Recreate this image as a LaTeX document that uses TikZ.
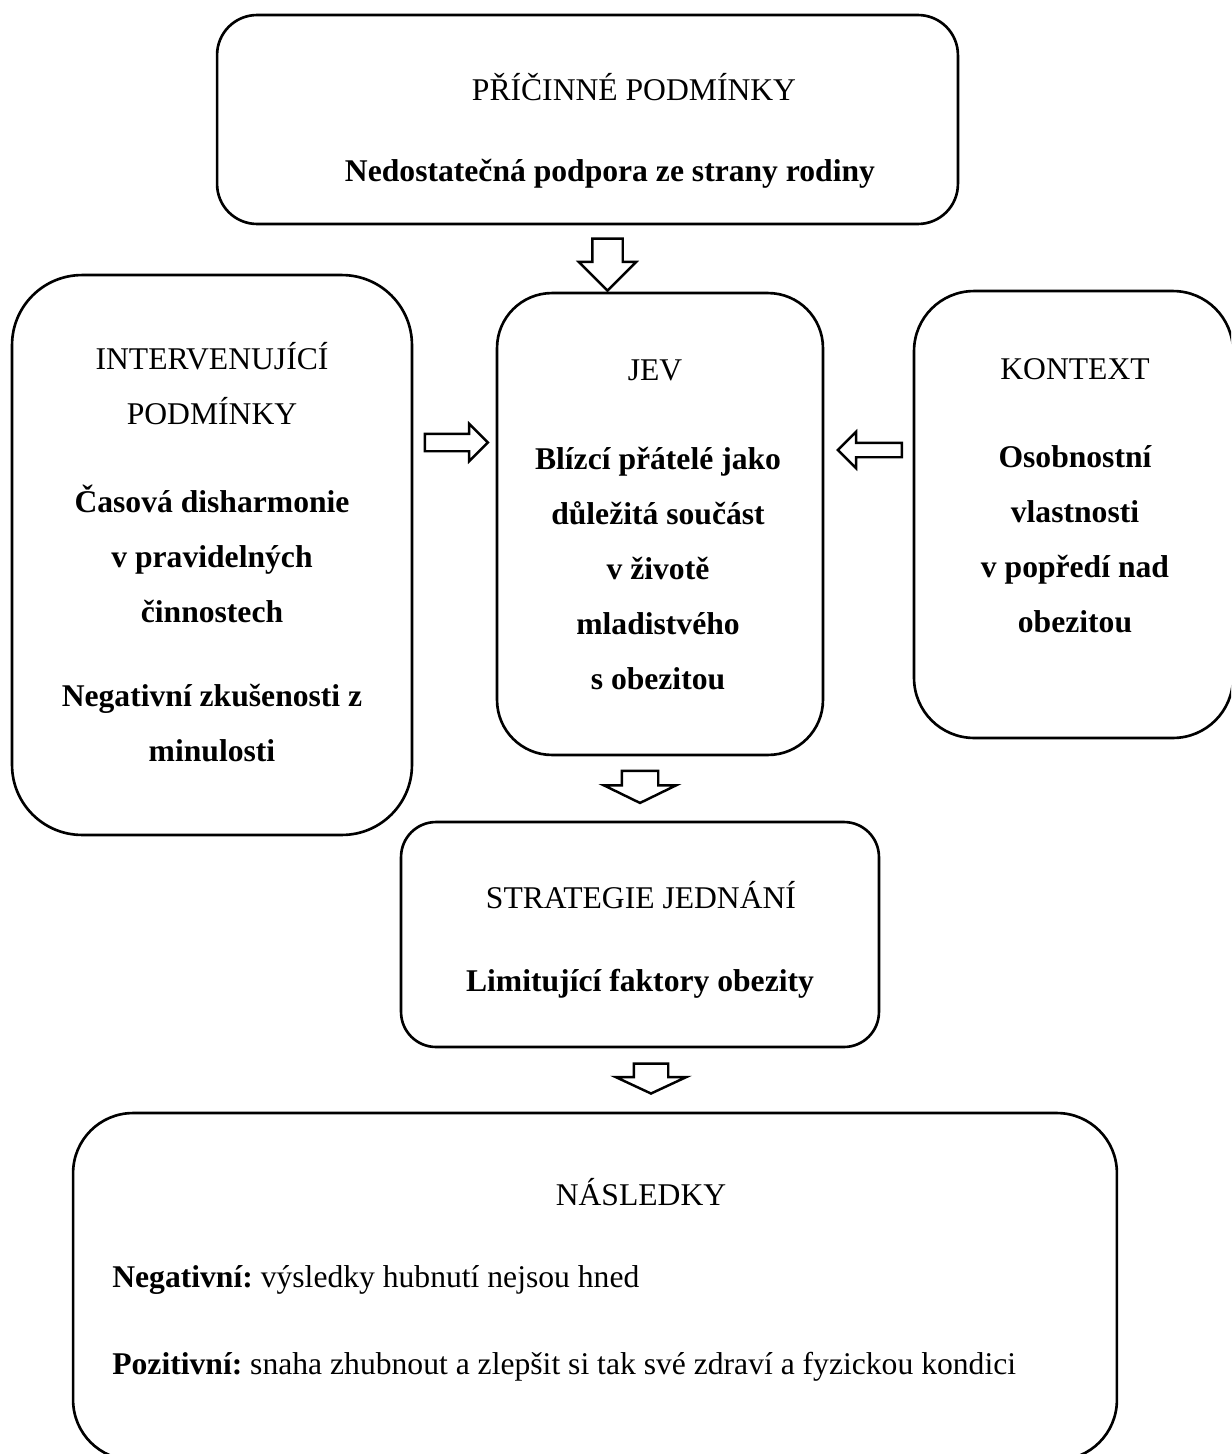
\documentclass[tikz,border=0pt]{standalone}
\usepackage{fontspec}
\setmainfont{Liberation Serif}
\usetikzlibrary{shapes.arrows}

\tikzset{
  box/.style={draw, line width=1.5pt, inner sep=0pt},
  head/.style={font=\fontsize{18}{31.3}\selectfont\frenchspacing, align=center},
  body/.style={font=\fontsize{18}{31.3}\selectfont\bfseries, align=center},
  blockarrow/.style={draw, single arrow, line width=1.4pt, inner xsep=0pt}
}

\begin{document}
\begin{tikzpicture}[x=0.02cm, y=-0.02cm]
\useasboundingbox (0,0) rectangle (1231,1454);
\clip (0,0) rectangle (1231,1454);

% boxes
\node[box, rounded corners=0.8cm, minimum width=14.82cm, minimum height=4.18cm] (pricin) at (587.5,119.5) {};
\node[box, rounded corners=1.4cm, minimum width=8cm, minimum height=11.2cm] (interv) at (212,555) {};
\node[box, rounded corners=1.1cm, minimum width=6.52cm, minimum height=9.24cm] (jev) at (660,524) {};
\node[box, rounded corners=1.2cm, minimum width=6.38cm, minimum height=8.94cm] (kontext) at (1073.5,514.5) {};
\node[box, rounded corners=0.7cm, minimum width=9.56cm, minimum height=4.5cm] (strat) at (640,934.5) {};
\node[box, rounded corners=1.2cm, minimum width=20.88cm, minimum height=6.94cm] (nasled) at (595,1286.5) {};

% texts
\node[head] (pricinH) at (634,87) {PŘÍČINNÉ PODMÍNKY};
\node[body] (pricinB) at (610,174) {Nedostatečná podpora ze strany rodiny};

\node[head] (intervH) at (212,384) {INTERVENUJÍCÍ\\PODMÍNKY};
\node[body] (intervB) at (212,554) {Časová disharmonie\\v pravidelných\\činnostech};
\node[body] (intervC) at (212,723.5) {Negativní zkušenosti z\\minulosti};

\node[head] (jevH) at (655,370) {JEV};
\node[body] (jevB) at (658,569) {Blízcí přátelé jako\\důležitá součást\\v životě\\mladistvého\\s obezitou};

\node[head] (kontextH) at (1075,369) {KONTEXT};
\node[body] (kontextB) at (1075,539) {Osobnostní\\vlastnosti\\v popředí nad\\obezitou};

\node[head] (stratH) at (641,895) {STRATEGIE JEDNÁNÍ};
\node[body] (stratB) at (640,984) {Limitující faktory obezity};

\node[head] (nasledH) at (641,1192) {NÁSLEDKY};
\node[head, anchor=west, inner sep=0pt] (neg) at (112,1280) {\textbf{Negativní:} výsledky hubnutí nejsou hned};
\node[head, anchor=west, inner sep=0pt] (poz) at (112,1367) {\textbf{Pozitivní:} snaha zhubnout a zlepšit si tak své zdraví a fyzickou kondici};

% arrows
\node[blockarrow, rotate=-90, minimum height=1.04cm, inner ysep=0.28cm, single arrow head extend=0.27cm] (a1) at (607.5,257) {};
\node[blockarrow, minimum height=1.26cm, inner ysep=0.15cm, single arrow head extend=0.2cm] (a2) at (452,442.5) {};
\node[blockarrow, shape border rotate=180, minimum height=1.28cm, inner ysep=0.12cm, single arrow head extend=0.22cm] (a3) at (873.5,450) {};
\node[blockarrow, rotate=-90, single arrow tip angle=128, minimum height=0.64cm, inner ysep=0.34cm, single arrow head extend=0.36cm] (a4) at (640,782.5) {};
\node[blockarrow, rotate=-90, single arrow tip angle=130, minimum height=0.6cm, inner ysep=0.32cm, single arrow head extend=0.36cm] (a5) at (651,1074.5) {};
\end{tikzpicture}
\end{document}
